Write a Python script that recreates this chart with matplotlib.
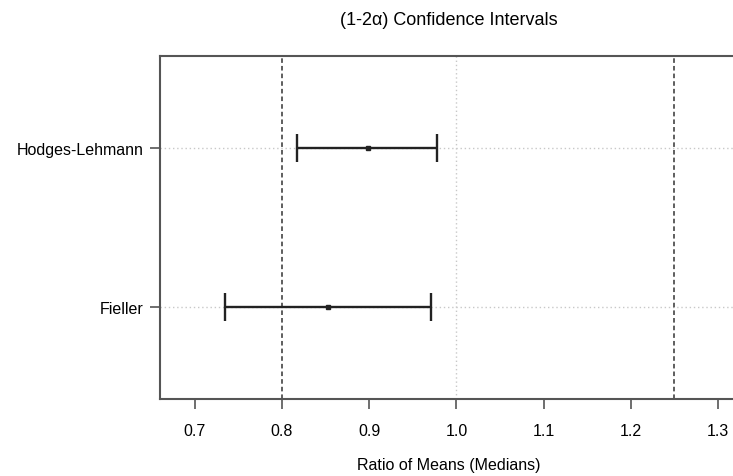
import matplotlib
matplotlib.use("Agg")
import matplotlib.pyplot as plt

plt.rcParams["font.family"] = ["Liberation Sans", "DejaVu Sans"]

methods = ["Fieller", "Hodges-Lehmann"]
estimates = [0.853, 0.899]
lower = [0.735, 0.817]
upper = [0.971, 0.978]
limits = [0.8, 1.25]
xticks = [0.7, 0.8, 0.9, 1.0, 1.1, 1.2, 1.3]

fig = plt.figure(figsize=(7.33, 4.77), dpi=100)
ax = fig.add_axes([160 / 733, 77 / 477, 578 / 733, 343 / 477])

ypos = list(range(1, len(methods) + 1))
ax.set_xlim(0.660, 1.323)
ax.set_ylim(0.417, 2.583)

# reference grid
for y in ypos:
    ax.axhline(y, color="#c8c8c8", linestyle=(0, (1, 2)), linewidth=1.0, zorder=1)
ax.axvline(1.0, color="#c8c8c8", linestyle=(0, (1, 2)), linewidth=1.0, zorder=1)
for lim in limits:
    ax.axvline(lim, color="#333333", linestyle=(0, (3, 2)), linewidth=1.1, zorder=2)

xerr = [[e - l for e, l in zip(estimates, lower)], [u - e for e, u in zip(estimates, upper)]]
ax.errorbar(estimates, ypos, xerr=xerr, fmt="s", color="#222222", markersize=3,
            elinewidth=1.7, capsize=10, capthick=1.7, zorder=3)

ax.set_xticks(xticks)
ax.set_xticklabels([f"{t:.1f}" for t in xticks])
ax.set_yticks(ypos)
ax.set_yticklabels(methods)
ax.tick_params(axis="both", labelsize=11.5, length=7, width=1.2, color="#555555", pad=10)
ax.tick_params(axis="y", pad=5)
for s in ax.spines.values():
    s.set_color("#555555")
    s.set_linewidth(1.5)

ax.set_title("(1-2\u03b1) Confidence Intervals", fontsize=13, pad=23)
ax.set_xlabel("Ratio of Means (Medians)", fontsize=11.5, labelpad=14)

fig.savefig("out.png", dpi=100)
